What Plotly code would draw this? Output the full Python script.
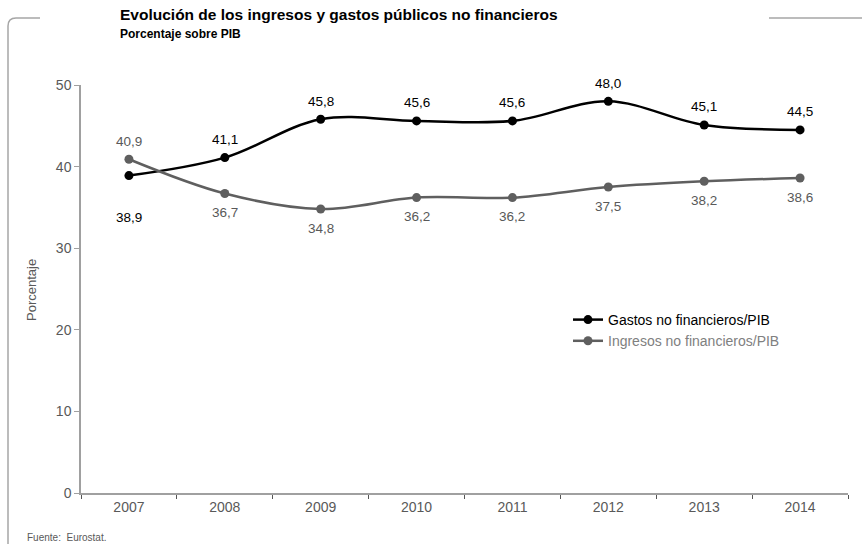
import plotly.graph_objects as go

years = ["2007", "2008", "2009", "2010", "2011", "2012", "2013", "2014"]
gastos = [38.9, 41.1, 45.8, 45.6, 45.6, 48.0, 45.1, 44.5]
ingresos = [40.9, 36.7, 34.8, 36.2, 36.2, 37.5, 38.2, 38.6]

# vertical label offsets in pixels (positive = above the point)
gastos_shift = [-42, 18, 18, 18, 18, 18, 18, 18]
ingresos_shift = [18, -19, -19, -19, -19, -19, -19, -19]

def fmt(v):
    return f"{v:.1f}".replace(".", ",")

FONT = "Liberation Sans, Arial, sans-serif"
GREY_LINE = "#5f5f5f"
AXIS = "#a0a0a0"
TXT = "#595959"

fig = go.Figure()
fig.add_trace(go.Scatter(
    x=years, y=gastos, name="Gastos no financieros/PIB",
    mode="lines+markers", line=dict(color="black", width=2.5, shape="spline", smoothing=1),
    marker=dict(color="black", size=9),
))
fig.add_trace(go.Scatter(
    x=years, y=ingresos,
    name="<span style='color:#808080'>Ingresos no financieros/PIB</span>",
    mode="lines+markers", line=dict(color=GREY_LINE, width=2.5, shape="spline", smoothing=1),
    marker=dict(color=GREY_LINE, size=9),
))

annotations = []
for i, (v, s) in enumerate(zip(gastos, gastos_shift)):
    annotations.append(dict(x=i, y=v, text=fmt(v), showarrow=False, yshift=s,
                            font=dict(size=13.5, color="black")))
for i, (v, s) in enumerate(zip(ingresos, ingresos_shift)):
    annotations.append(dict(x=i, y=v, text=fmt(v), showarrow=False, yshift=s,
                            font=dict(size=13.5, color=TXT)))

L, R, T, B = 81, 14, 85, 51
W, H = 862, 544
pw, ph = W - L - R, H - T - B

def px(x):
    return (x - L) / pw

def py(y):
    return (H - B - y) / ph

frame = (f"M {px(40)},{py(18)} L {px(16)},{py(18)} "
         f"Q {px(8)},{py(18)} {px(8)},{py(26)} L {px(8)},{py(546)}")

annotations += [
    dict(text="<b>Evolución de los ingresos y gastos públicos no financieros</b>",
         xref="paper", yref="paper", x=px(118), y=py(15), xanchor="left", yanchor="middle",
         showarrow=False, font=dict(size=15.5, color="black")),
    dict(text="<b>Porcentaje sobre PIB</b>",
         xref="paper", yref="paper", x=px(118), y=py(34), xanchor="left", yanchor="middle",
         showarrow=False, font=dict(size=12, color="black")),
    dict(text="Porcentaje", textangle=-90,
         xref="paper", yref="paper", x=px(31), y=py(290), xanchor="center", yanchor="middle",
         showarrow=False, font=dict(size=13, color=TXT)),
    dict(text="Fuente:  Eurostat.",
         xref="paper", yref="paper", x=px(25), y=py(537), xanchor="left", yanchor="middle",
         showarrow=False, font=dict(size=10, color=TXT)),
]

fig.update_layout(
    width=W, height=H,
    margin=dict(l=L, r=R, t=T, b=B),
    paper_bgcolor="white", plot_bgcolor="white",
    font=dict(family=FONT, color=TXT, size=13),
    showlegend=True,
    legend=dict(x=px(568), y=py(304), xanchor="left", yanchor="top",
                bgcolor="rgba(0,0,0,0)", font=dict(size=14, color="black"),
                itemwidth=30, tracegroupgap=0),
    xaxis=dict(type="category", categoryorder="array", categoryarray=years,
               range=[-0.5, len(years) - 0.5], autorange=False,
               showline=True, linecolor=AXIS, linewidth=1.5,
               ticks="outside", tickson="boundaries", ticklen=4, tickcolor="#555555",
               showgrid=False, tickfont=dict(size=14, color=TXT), fixedrange=True),
    yaxis=dict(range=[0, 50], autorange=False, dtick=10, showline=True, linecolor=AXIS,
               linewidth=1.5, ticks="outside", ticklen=5, tickcolor=AXIS, showgrid=False,
               zeroline=False, tickfont=dict(size=14, color=TXT), fixedrange=True),
    shapes=[
        dict(type="path", xref="paper", yref="paper", path=frame,
             line=dict(color="#a6a6a6", width=1.5)),
        dict(type="line", xref="paper", yref="paper", x0=px(769), x1=px(862),
             y0=py(18), y1=py(18), line=dict(color="#a6a6a6", width=1.5)),
    ],
    annotations=annotations,
)

fig.write_html("out.html")
